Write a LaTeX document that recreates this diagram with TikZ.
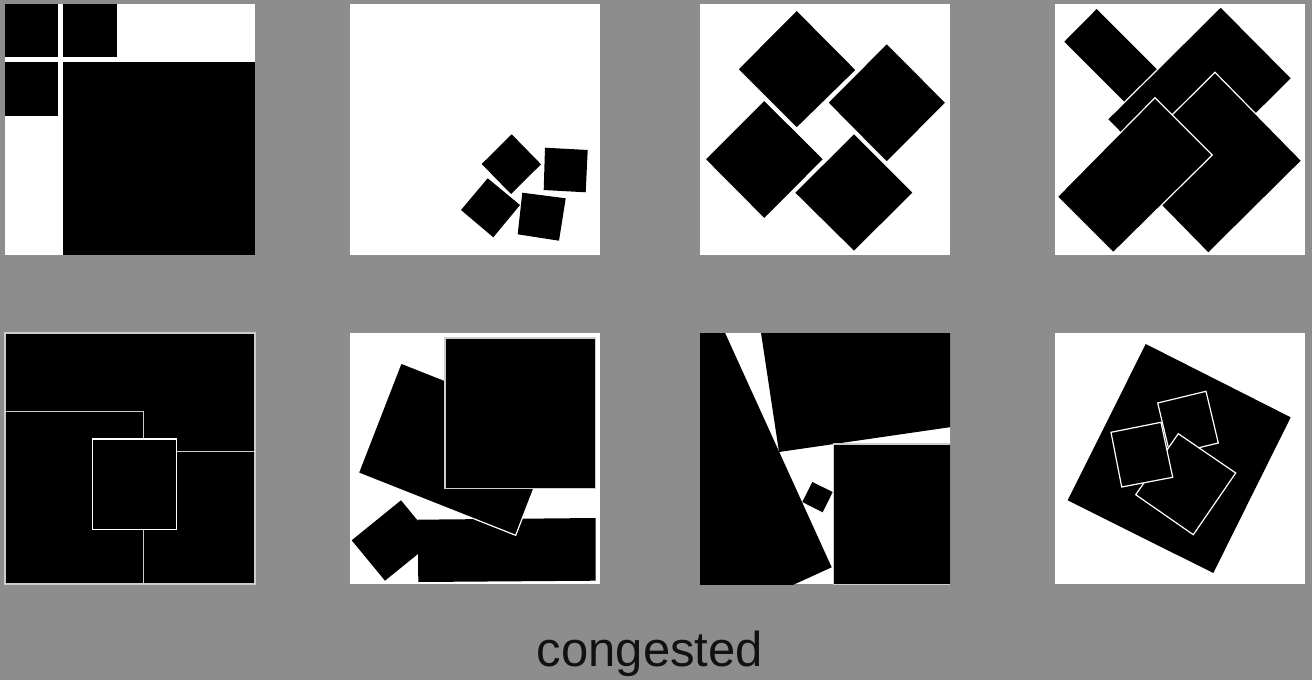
\documentclass[tikz,border=0pt]{standalone}
\usepackage{fontspec}
\setmainfont{Liberation Sans}
\definecolor{bg}{RGB}{142,141,142}
\definecolor{lg}{RGB}{205,205,205}
\definecolor{ink}{RGB}{17,17,17}
\begin{document}
\begin{tikzpicture}[x=0.5pt,y=-0.5pt,
  panel/.style={fill=white},
  blk/.style={fill=black},
  blko/.style={fill=black,draw=white,line width=0.6pt,line join=miter},
  blkg/.style={fill=black,draw=lg,line width=0.6pt}]
\useasboundingbox (0,0) rectangle (1312,680);
\fill[bg] (0,0) rectangle (1312,680);
% panels
\foreach \px in {5,350,700,1055}{
  \fill[panel] (\px,4) rectangle ++(250,251);
  \fill[panel] (\px,333) rectangle ++(250,251);
}
% ---- panel 1
\fill[blk] (5,4) rectangle (58,57);
\fill[blk] (63,4) rectangle (117,57);
\fill[blk] (5,62) rectangle (58,116);
\fill[blk] (63,62) rectangle (255,255);
% ---- panel 2
\fill[blk] (511.7,134.3) -- (541,164.3) -- (511,194) -- (481.7,164) -- cycle;
\fill[blk] (545,147.7) -- (587.7,150) -- (585.7,192.3) -- (543.7,190) -- cycle;
\fill[blk] (487.7,178.3) -- (520,205) -- (493.3,237.3) -- (461,210) -- cycle;
\fill[blk] (522.3,192.7) -- (565.7,198.3) -- (559,240.7) -- (517.7,234.3) -- cycle;
% ---- panel 3
\filldraw[blko] (764.3,100) -- (823.7,159.3) -- (764.3,219) -- (705,159.3) -- cycle;
\filldraw[blko] (796.7,10) -- (856.3,70) -- (796.7,128.3) -- (737.7,69.3) -- cycle;
\filldraw[blko] (886.7,43.3) -- (946,102.7) -- (886.7,162.3) -- (827.7,102.7) -- cycle;
\filldraw[blko] (854,133.3) -- (913.3,192.7) -- (854,251.7) -- (794.3,192.7) -- cycle;
% ---- panel 4
\fill[blk] (1096.7,9) -- (1159.7,72) -- (1127,104.3) -- (1064.3,41.7) -- cycle;
\filldraw[blko] (1220.7,6.7) -- (1291.7,78.3) -- (1178.3,191) -- (1107.3,119.3) -- cycle;
\filldraw[blko] (1215,72.3) -- (1301.7,160.7) -- (1208.3,253.3) -- (1121.7,165) -- cycle;
\filldraw[blko] (1155,97.7) -- (1212.3,155) -- (1113.3,252.7) -- (1057.3,196.7) -- cycle;
% ---- panel 5
\filldraw[blkg] (5,333) rectangle (255,584);
\filldraw[blkg] (5,411.3) rectangle (143.3,584);
\filldraw[blkg] (143.3,451.3) rectangle (255,584);
\filldraw[blko] (92.7,439) rectangle (176.7,529.7);
% ---- panel 6
\fill[blk] (401,500.3) -- (434.3,540.7) -- (385,580.7) -- (351.7,540.3) -- cycle;
\fill[blk] (417.7,519.7) -- (595.7,518) -- (595.7,580.7) -- (418.3,582) -- cycle;
\filldraw[blko] (401,363) -- (558.3,425.3) -- (515.7,535.3) -- (358.3,473) -- cycle;
\filldraw[blkg] (445,338) rectangle (595.7,488.7);
% ---- panel 7
\begin{scope}
\clip (700,333) rectangle (950,584);
\fill[blk] (779,452) -- (1075.9,408.9) -- (1031,112.3) -- (734.2,155.4) -- cycle;
\fill[blk] (707.5,294.3) -- (831.7,567.3) -- (558.7,691.5) -- (434.5,418.5) -- cycle;
\filldraw[blkg] (833.3,444) rectangle (951,585);
\fill[blk] (812.3,482) -- (832.7,492) -- (822.7,512.3) -- (802.3,502) -- cycle;
\end{scope}
% ---- panel 8
\fill[blk] (1145.7,344) -- (1290.7,417.3) -- (1213.3,573) -- (1067.7,500.3) -- cycle;
\filldraw[blko] (1157.7,403) -- (1206,391.3) -- (1218.3,443) -- (1170,454.7) -- cycle;
\filldraw[blko] (1178.3,433.7) -- (1235.7,473) -- (1193.3,534.7) -- (1135.7,494.7) -- cycle;
\filldraw[blko] (1111,432.3) -- (1161,422.3) -- (1172.7,477.3) -- (1121.7,487) -- cycle;
% ---- caption
\node[anchor=base,inner sep=0pt,text=ink,font=\fontsize{24.5pt}{29pt}\selectfont] (title) at (650,666.7) {congested};
\end{tikzpicture}
\end{document}
